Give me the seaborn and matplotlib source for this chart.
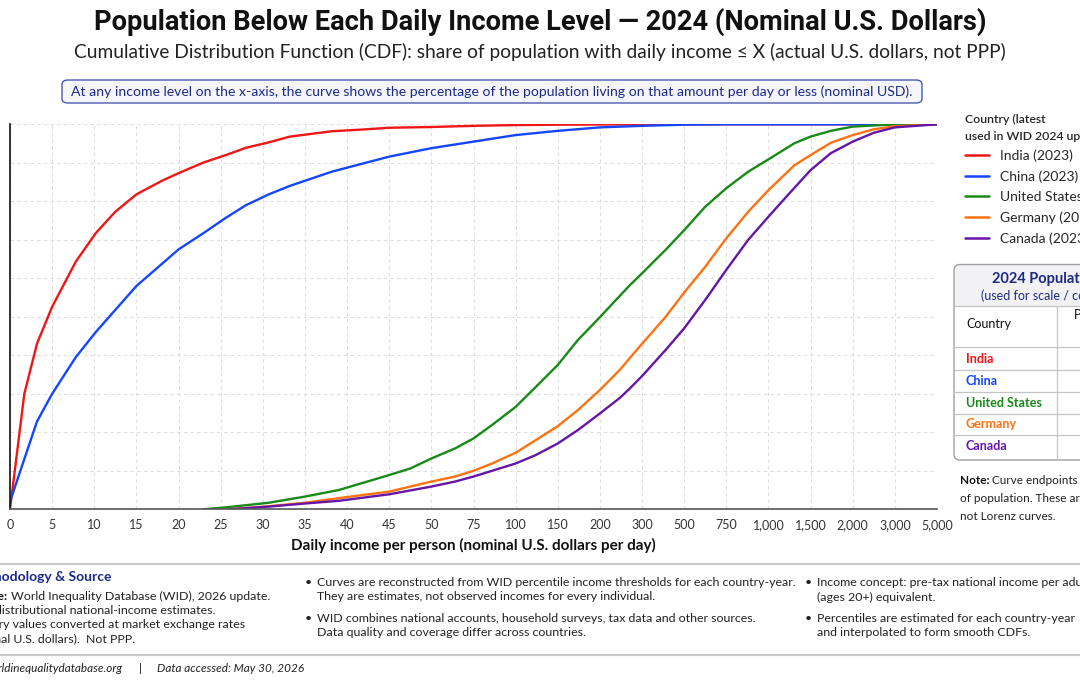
import numpy as np
import pandas as pd
import seaborn as sns
import matplotlib.pyplot as plt
from matplotlib.patches import FancyBboxPatch, Rectangle
from matplotlib.lines import Line2D

# x axis: evenly spaced ticks, piecewise-linear between them
tick_values = [0, 5, 10, 15, 20, 25, 30, 35, 40, 45, 50, 75, 100, 150, 200,
               300, 500, 750, 1000, 1500, 2000, 3000, 5000]
y_ticks = [0, 10, 20, 30, 40, 50, 60, 70, 80, 90, 100]

countries = ["India", "China", "United States", "Germany", "Canada"]
data_years = [2023, 2023, 2023, 2023, 2023]
colors = ["#f01616", "#1446ff", "#178a17", "#ff7212", "#6516a8"]
population_2024 = [1450.9, 1419.3, 345.4, 84.6, 39.7]  # millions

india_income = [0, 1.7, 3.2, 5, 7.8, 10.2, 12.5, 15, 18, 20, 23, 25.6, 28, 30.7,
                33.2, 38.2, 41.5, 45, 50, 75, 100, 150, 200, 300, 5000]
india_share = [0, 30, 43, 52.6, 64.3, 71.8, 77.3, 81.8, 85.3, 87.3, 90.1, 92, 93.9,
               95.3, 96.8, 98.2, 98.6, 99.1, 99.3, 99.6, 99.8, 99.9, 99.95, 100, 100]

china_income = [0, 3.2, 5, 7.8, 10.2, 15, 20, 23, 25.6, 28, 30.7, 33.2, 38.2, 41.5,
                45, 50, 75, 100, 150, 200, 300, 500, 750, 1000, 5000]
china_share = [2, 22.8, 30, 39.5, 46.1, 58, 67.5, 71.8, 75.7, 79, 81.8, 84, 87.7, 89.6,
               91.6, 93.8, 95.5, 97.2, 98.3, 99.2, 99.6, 99.9, 100, 100, 100]

us_income = [22.9, 25.6, 30.7, 35, 39, 45, 47.5, 50, 64, 75, 86, 100, 124, 150, 174,
             200, 240, 271, 300, 412, 500, 625, 750, 880, 1000, 1310, 1500, 1740,
             2000, 3000, 5000]
us_share = [0, 0.5, 1.7, 3.3, 5.0, 8.9, 10.6, 13.2, 15.8, 18.4, 21.9, 26.6, 31.8, 37.5,
            44, 49.9, 54.6, 58.2, 61.3, 67.4, 72.5, 78.6, 83.4, 87.7, 90.9, 95.1, 96.8,
            98.3, 99.4, 100, 100]

germany_income = [26, 30.7, 35, 39, 45, 50, 64, 75, 86, 100, 124, 150, 174, 200, 248,
                  271, 300, 412, 500, 625, 750, 880, 1000, 1310, 1500, 1740, 2000,
                  2500, 3000, 5000]
germany_share = [0, 0.8, 1.7, 2.9, 4.6, 7.2, 8.5, 10.0, 11.9, 14.7, 18, 21.6, 25.8, 31,
                 36.3, 39.3, 43.0, 50, 56.3, 63, 70.4, 77.3, 82.9, 89.4, 92, 95.2, 97.2,
                 98.7, 99.5, 100]

canada_income = [26, 30.7, 35, 39, 45, 50, 64, 75, 86, 100, 124, 150, 174, 200, 248,
                 271, 300, 412, 500, 625, 750, 880, 1000, 1250, 1500, 1740, 2000,
                 2500, 3000, 5000]
canada_share = [0, 0.7, 1.5, 2.2, 3.9, 5.9, 7.2, 8.5, 10, 11.9, 14.1, 17.1, 20.6, 24.9,
                29.0, 31.4, 34.6, 41.4, 47, 54.4, 62.2, 70, 76, 82.1, 88.1, 92.5, 95.5,
                97.8, 99.2, 100]

incomes = [india_income, china_income, us_income, germany_income, canada_income]
shares = [india_share, china_share, us_share, germany_share, canada_share]

frames = []
for name, yr, xs, ys in zip(countries, data_years, incomes, shares):
    frames.append(pd.DataFrame({"income": xs, "share": ys,
                                "country": f"{name} ({yr})"}))
df = pd.concat(frames, ignore_index=True)
labels = [f"{c} ({y})" for c, y in zip(countries, data_years)]
palette = dict(zip(labels, colors))

sns.set_theme(style="white")
plt.rcParams["font.family"] = ["Lato", "DejaVu Sans"]
TITLE_FONT = ["Liberation Sans Narrow", "Roboto", "DejaVu Sans"]
NAVY = "#1c2a86"
BODY = 8.9

W, H = 1080, 680


def fx(px):
    return px / W


def fy(py):
    return 1 - py / H


fig = plt.figure(figsize=(10.8, 6.8), dpi=100)
fig.patch.set_facecolor("white")

# ---- titles
fig.text(fx(540), fy(22), "Population Below Each Daily Income Level \u2014 2024 (Nominal U.S. Dollars)",
         ha="center", va="center", fontsize=19.6, fontweight="bold", family=TITLE_FONT, color="#111111")
fig.text(fx(540), fy(52), "Cumulative Distribution Function (CDF): share of population with daily income \u2264 X (actual U.S. dollars, not PPP)",
         ha="center", va="center", fontsize=13.8, color="#222222")

box = FancyBboxPatch((fx(62), fy(103)), fx(860), (103 - 80) / H,
                     boxstyle="round,pad=0,rounding_size=0.006", transform=fig.transFigure,
                     fc="#f4f6fc", ec="#4b5bb0", lw=1.0)
fig.patches.append(box)
fig.text(fx(492), fy(91.5), "At any income level on the x-axis, the curve shows the percentage of the population living on that amount per day or less (nominal USD).",
         ha="center", va="center", fontsize=10.1, color=NAVY)

# ---- main axes
ax = fig.add_axes([fx(10), fy(509.3), (937 - 10) / W, (509.3 - 124.3) / H])
sns.lineplot(data=df, x="income", y="share", hue="country", hue_order=labels,
             palette=palette, linewidth=1.7, errorbar=None, ax=ax)

tick_idx = np.arange(len(tick_values), dtype=float)


def fwd(x):
    return np.interp(x, tick_values, tick_idx)


def inv(i):
    return np.interp(i, tick_idx, tick_values)


ax.set_xscale("function", functions=(fwd, inv))
ax.set_xlim(0, 5000)
ax.set_ylim(0, 100)
ax.set_xticks(tick_values)
ax.set_xticklabels([f"{t:,}" for t in tick_values], fontsize=9, color="#222222")
ax.set_yticks(y_ticks)
ax.set_yticklabels([f"{t}%" for t in y_ticks], fontsize=9)
ax.minorticks_off()
ax.grid(True, color="#dedede", linestyle=(0, (3, 3)), linewidth=0.8)
ax.set_axisbelow(True)
for s in ["top", "right"]:
    ax.spines[s].set_visible(False)
ax.spines["left"].set_color("#111111")
ax.spines["left"].set_linewidth(1.2)
ax.spines["bottom"].set_color("#555555")
ax.spines["bottom"].set_linewidth(1.2)
ax.tick_params(axis="both", which="major", direction="out", length=4, width=0.8,
               colors="#333333", pad=3)
ax.set_xlabel("Daily income per person (nominal U.S. dollars per day)",
              fontsize=11, fontweight="bold", color="#111111", labelpad=5)
ax.set_ylabel("")

handles, _ = ax.get_legend_handles_labels()
leg = ax.legend(handles[:5], labels, title="Country (latest\nused in WID 2024 update)",
                loc="upper left", bbox_to_anchor=(fx(965), fy(114)), bbox_transform=fig.transFigure,
                frameon=False, fontsize=10, title_fontsize=8.8, handlelength=1.75,
                handletextpad=0.75, labelspacing=0.58, alignment="left",
                borderaxespad=0, borderpad=0)
leg.get_title().set_fontweight("semibold")
leg.get_title().set_linespacing(1.6)
for h in leg.legend_handles:
    h.set_linewidth(1.8)

# ---- population table (runs off the right edge)
tax = fig.add_axes([fx(950), fy(470), 240 / W, (470 - 255) / H])
tax.set_xlim(950, 1190)
tax.set_ylim(470, 255)
tax.axis("off")
x0, y0, x1, y1 = 954, 264.5, 1250, 460
head = FancyBboxPatch((x0, y0), x1 - x0, 41.5, boxstyle="round,pad=0,rounding_size=6",
                      fc="#f2f2f4", ec="none", clip_on=False)
tax.add_patch(head)
tax.add_patch(Rectangle((x0, 292), x1 - x0, 14, fc="#f2f2f4", ec="none", clip_on=False))
outer = FancyBboxPatch((x0, y0), x1 - x0, y1 - y0, boxstyle="round,pad=0,rounding_size=6",
                       fc="none", ec="#a0a0a0", lw=1.0, clip_on=False)
tax.add_patch(outer)
for yl in [306, 347, 370, 392, 413.5, 435]:
    tax.plot([x0, x1], [yl, yl], color="#c4c4c4", lw=0.9, clip_on=False)
tax.plot([1057, 1057], [306, y1], color="#c4c4c4", lw=0.9, clip_on=False)
tax.text(992, 278, "2024 Population (millions)", ha="left", va="center",
         fontsize=10.5, fontweight="bold", color=NAVY, clip_on=False)
tax.text(981, 295.5, "(used for scale / context)", ha="left", va="center",
         fontsize=9, color=NAVY, clip_on=False)
tax.text(966, 324, "Country", ha="left", va="center", fontsize=9, color="#111111")
tax.text(1104, 324, "Population\n(millions)", ha="center", va="center",
         fontsize=9, color="#111111", linespacing=1.5, clip_on=False)
row_y = [359, 381, 403, 424.5, 446.5]
for name, col, pop, yy in zip(countries, colors, population_2024, row_y):
    tax.text(966, yy, name, ha="left", va="center", fontsize=9,
             fontweight="bold", color=col)
    tax.text(1104, yy, f"{pop:,.1f}", ha="center", va="center", fontsize=9,
             color="#111111", clip_on=False)

# ---- note under table
renderer = fig.canvas.get_renderer()
nt = fig.text(fx(960), fy(480.5), "Note:", ha="left", va="center", fontsize=8.5,
              fontweight="bold", color="#111111")
nb = nt.get_window_extent(renderer)
fig.text(nb.x1 / W + fx(3), fy(480.5), "Curve endpoints are 0% and 100%", ha="left",
         va="center", fontsize=8.5, color="#222222")
fig.text(fx(960), fy(498.5), "of population. These are CDFs,", ha="left",
         va="center", fontsize=8.5, color="#222222")
fig.text(fx(960), fy(516), "not Lorenz curves.", ha="left",
         va="center", fontsize=8.5, color="#222222")

# ---- bottom panel
for yl in [563.5, 655]:
    fig.add_artist(Line2D([0, 1], [fy(yl), fy(yl)], transform=fig.transFigure,
                          color="#c9c9c9", lw=1.6))

fig.text(fx(111), fy(577), "Methodology & Source", ha="right", va="center",
         fontsize=10, fontweight="bold", color=NAVY)
st = fig.text(fx(270), fy(596.5), "World Inequality Database (WID), 2026 update.",
              ha="right", va="center", fontsize=BODY, color="#222222")
sb = st.get_window_extent(renderer)
fig.text(sb.x0 / W - fx(3), fy(596.5), "Source:", ha="right", va="center",
         fontsize=BODY, fontweight="bold", color="#111111")
fig.text(fx(215), fy(610.5), "Pre-tax distributional national-income estimates.",
         ha="right", va="center", fontsize=BODY, color="#222222")
fig.text(fx(245), fy(624.5), "Monetary values converted at market exchange rates",
         ha="right", va="center", fontsize=BODY, color="#222222")
fig.text(fx(135), fy(638.5), "(nominal U.S. dollars).  Not PPP.",
         ha="right", va="center", fontsize=BODY, color="#222222")

bullets = [
    (305, 583, "Curves are reconstructed from WID percentile income thresholds for each country-year.\nThey are estimates, not observed incomes for every individual."),
    (305, 618.5, "WID combines national accounts, household surveys, tax data and other sources.\nData quality and coverage differ across countries."),
    (805, 583, "Income concept: pre-tax national income per adult\n(ages 20+) equivalent."),
    (805, 618.5, "Percentiles are estimated for each country-year\nand interpolated to form smooth CDFs."),
]
for bx, by, txt in bullets:
    fig.text(fx(bx), fy(by), "\u2022", ha="left", va="center", fontsize=BODY, color="#222222")
    first, second = txt.split("\n")
    fig.text(fx(bx + 12), fy(by), first, ha="left", va="center", fontsize=BODY, color="#222222")
    fig.text(fx(bx + 12), fy(by + 14), second, ha="left", va="center", fontsize=BODY, color="#222222")

fig.text(fx(122), fy(668), "Source: worldinequalitydatabase.org", ha="right", va="center",
         fontsize=8.5, style="italic", color="#222222")
fig.text(fx(140), fy(668), "|", ha="center", va="center", fontsize=8.5, color="#222222")
fig.text(fx(157), fy(668), "Data accessed: May 30, 2026", ha="left", va="center",
         fontsize=8.5, style="italic", color="#222222")

fig.savefig("out.png", dpi=100, facecolor="white")
